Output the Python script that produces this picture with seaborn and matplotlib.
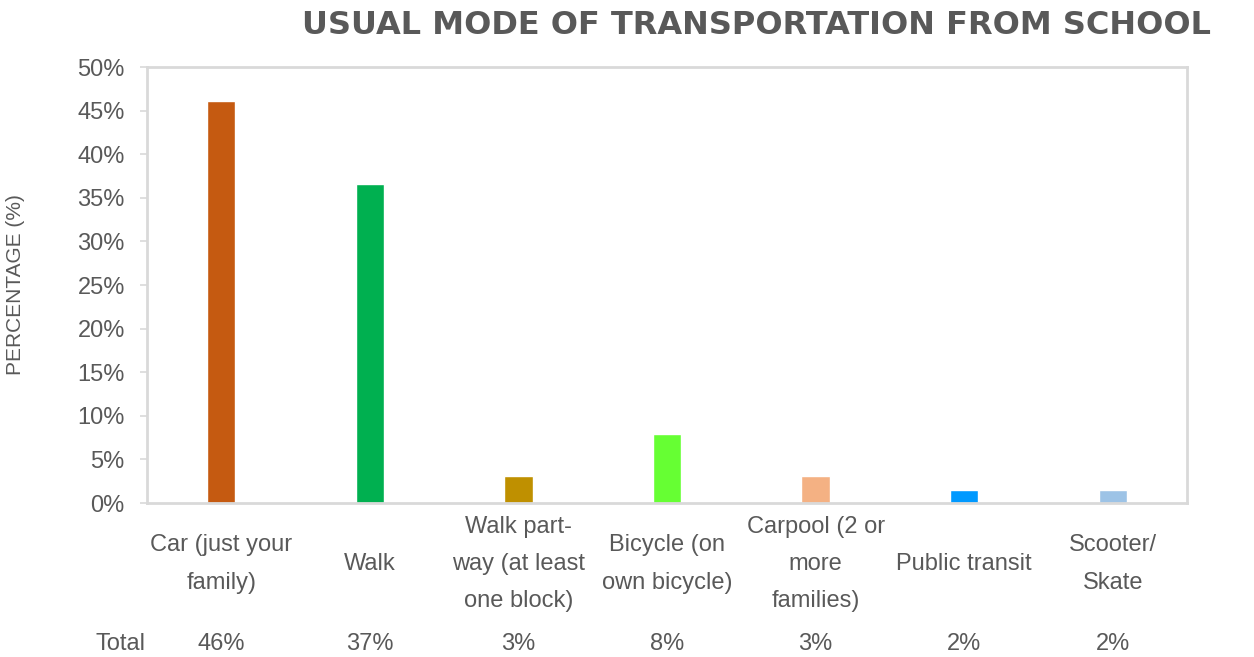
import matplotlib
matplotlib.use("Agg")
import matplotlib.pyplot as plt
import matplotlib.transforms as mtransforms
import seaborn as sns
import pandas as pd
from matplotlib.ticker import PercentFormatter

sns.set_theme(style="white")
plt.rcParams['font.family'] = ['Liberation Sans', 'DejaVu Sans']

# Data
categories = ["Car (just your\nfamily)", "Walk", "Walk part-\nway (at least\none block)",
              "Bicycle (on\nown bicycle)", "Carpool (2 or\nmore\nfamilies)",
              "Public transit", "Scooter/\nSkate"]
values = [46.1, 36.6, 3.1, 7.9, 3.1, 1.5, 1.5]
table_labels = ["46%", "37%", "3%", "8%", "3%", "2%", "2%"]
colors = ["#C55A11", "#00B050", "#BF9000", "#66FF33", "#F4B183", "#0099FF", "#9DC3E6"]

df = pd.DataFrame({"mode": categories, "pct": values})
text_color = "#595959"
edge_color = "#D9D9D9"

fig = plt.figure(figsize=(12.54, 6.57), dpi=100)
ax = fig.add_axes([147/1254, 1 - 503/657, 1040/1254, 436/657])

sns.barplot(data=df, x="mode", y="pct", hue="mode", palette=colors,
            width=0.19, legend=False, ax=ax, saturation=1)

ax.set_ylim(0, 50)
ax.set_xlim(-0.5, len(categories) - 0.5)
ax.set_yticks(range(0, 51, 5))
ax.yaxis.set_major_formatter(PercentFormatter(decimals=0))
ax.set_xlabel("")
ax.set_ylabel("PERCENTAGE (%)", fontsize=15, color=text_color, labelpad=38)

for s in ax.spines.values():
    s.set_color(edge_color)
    s.set_linewidth(2)

ax.tick_params(axis="y", left=True, length=5, width=1.2, color=edge_color,
               labelsize=17, labelcolor=text_color, pad=11)
ax.tick_params(axis="x", bottom=False, length=0, labelsize=17,
               labelcolor=text_color, pad=44)
ax.set_xticks(range(len(categories)))
ax.set_xticklabels(categories, va="center", linespacing=1.9)

# data table row
trans = mtransforms.blended_transform_factory(ax.transData, fig.transFigure)
for i, lab in enumerate(table_labels):
    ax.text(i, 1 - 644/657, lab, transform=trans, ha="center", va="center",
            fontsize=17, color=text_color)
fig.text(120/1254, 1 - 644/657, "Total", ha="center", va="center",
         fontsize=17, color=text_color)

fig.text(757/1254, 1 - 25/657, "USUAL MODE OF TRANSPORTATION FROM SCHOOL",
         ha="center", va="center", fontsize=23, fontweight="bold",
         color=text_color, family="DejaVu Sans")

fig.savefig("out.png", dpi=100, facecolor="white")
